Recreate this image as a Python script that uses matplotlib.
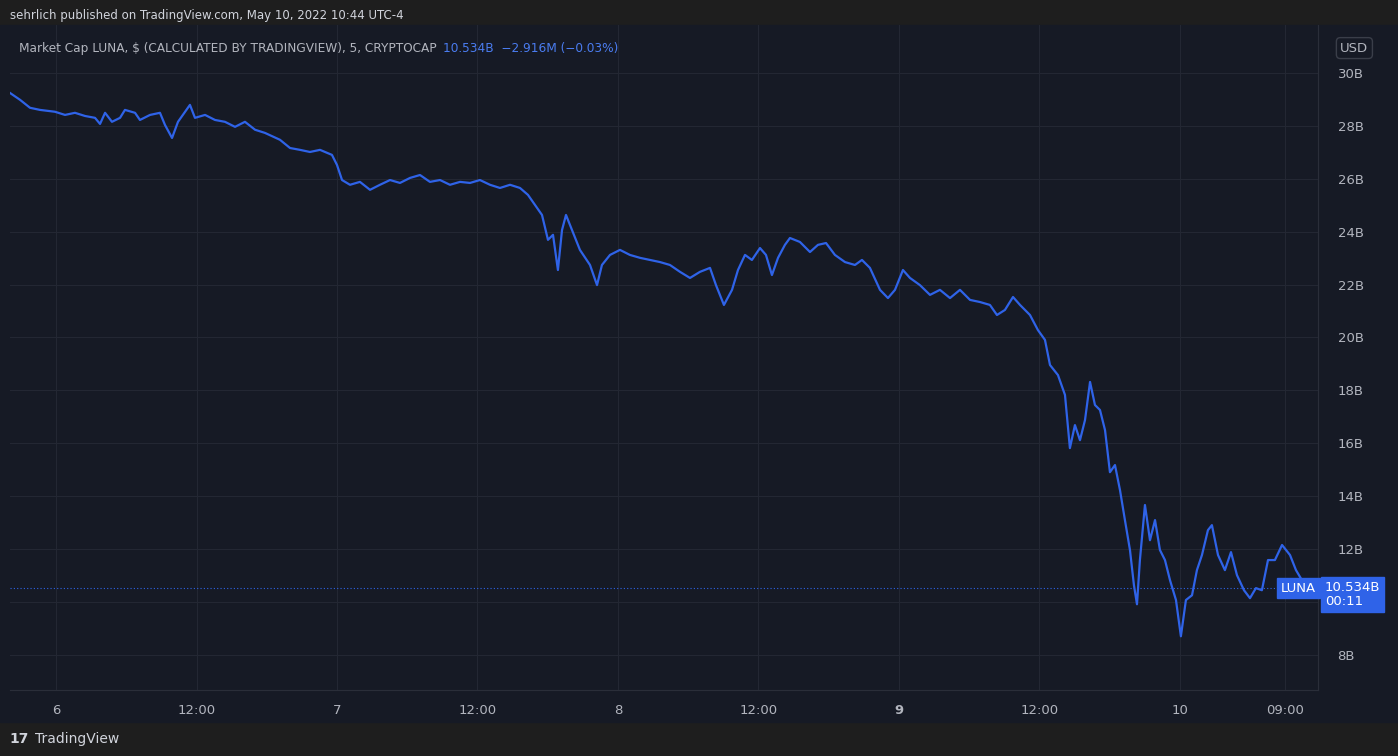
import matplotlib
matplotlib.use("Agg")
import matplotlib.pyplot as plt
from matplotlib.patches import Rectangle

# hours since May 6 00:00
hours = [-3.93,-3.07,-2.22,-1.37,-0.09,0.77,1.62,2.48,3.33,3.76,4.19,4.78,5.47,5.89,6.75,7.17,8.03,8.88,9.31,9.91,
 10.42,11.02,11.44,11.87,12.73,13.58,14.43,15.29,16.14,17.00,17.85,19.13,19.99,20.84,21.69,22.55,23.57,24.00,24.43,25.11,
 25.96,26.82,27.67,28.53,29.38,30.24,31.09,31.94,32.80,33.65,34.51,35.36,36.21,37.07,37.92,38.78,39.63,40.31,40.91,41.51,
 42.02,42.45,42.87,43.22,43.56,44.07,44.75,45.61,46.21,46.63,47.32,48.17,49.02,49.88,50.73,51.59,52.44,53.30,54.15,55.00,
 55.86,56.37,57.05,57.74,58.25,58.85,59.44,60.13,60.64,61.15,61.67,62.26,62.69,63.54,64.40,65.08,65.77,66.53,67.39,68.24,
 68.84,69.52,70.38,71.06,71.66,72.34,72.94,73.79,74.65,75.50,76.36,77.21,78.07,78.92,79.77,80.37,81.05,81.74,82.34,83.19,
 83.87,84.47,84.90,85.58,86.18,86.60,87.03,87.46,87.89,88.32,88.74,89.17,89.60,90.02,90.45,90.88,91.30,91.73,92.07,92.33,
 92.58,93.01,93.44,93.87,94.29,94.72,95.15,95.66,96.08,96.51,97.03,97.45,97.88,98.39,98.73,99.25,99.84,100.36,100.87,101.47,
 101.98,102.49,103.00,103.52,104.11,104.72,105.40,105.91,106.42]
# market cap, billions USD
cap = [29.24,28.98,28.68,28.60,28.53,28.41,28.49,28.37,28.30,28.07,28.49,28.15,28.30,28.60,28.49,28.22,28.41,28.49,28.03,27.54,
 28.15,28.53,28.79,28.30,28.41,28.22,28.15,27.96,28.15,27.85,27.73,27.47,27.16,27.09,27.01,27.09,26.90,26.52,25.95,25.77,
 25.88,25.58,25.77,25.95,25.84,26.03,26.14,25.88,25.95,25.77,25.88,25.84,25.95,25.77,25.65,25.77,25.65,25.39,25.01,24.63,
 23.69,23.88,22.55,24.06,24.63,24.06,23.31,22.74,21.98,22.74,23.12,23.31,23.12,23.01,22.93,22.85,22.74,22.48,22.25,22.48,
 22.63,21.98,21.23,21.80,22.55,23.12,22.93,23.38,23.12,22.36,23.01,23.50,23.76,23.61,23.23,23.50,23.57,23.12,22.85,22.74,
 22.93,22.63,21.80,21.49,21.80,22.55,22.25,21.98,21.61,21.80,21.49,21.80,21.42,21.34,21.23,20.85,21.04,21.53,21.23,20.85,
 20.28,19.91,18.96,18.58,17.83,15.82,16.69,16.12,16.88,18.32,17.45,17.26,16.50,14.91,15.18,14.23,13.10,11.97,10.64,9.92,
 11.59,13.67,12.34,13.10,11.97,11.59,10.83,10.08,8.71,10.08,10.26,11.21,11.78,12.72,12.91,11.78,11.21,11.89,11.02,10.45,
 10.15,10.53,10.45,11.59,11.59,12.16,11.78,11.21,10.83]
last_value = 10.534
xtick_pos = [0, 12, 24, 36, 48, 60, 72, 84, 96, 105]
xtick_lab = ["6", "12:00", "7", "12:00", "8", "12:00", "9", "12:00", "10", "09:00"]
ytick_vals = [8, 10, 12, 14, 16, 18, 20, 22, 24, 26, 28, 30]

BG = "#161a25"
GRID = "#232733"
TXT = "#b2b5be"
BLUE = "#2f63e8"

fig = plt.figure(figsize=(13.98, 7.56), dpi=100)
fig.patch.set_facecolor("#1e1e1e")
fig.add_artist(Rectangle((0, 0.0873), 1, 0.8797, transform=fig.transFigure, color=BG, zorder=0))
fig.add_artist(Rectangle((0, 0.045), 1, 0.0423, transform=fig.transFigure, color=BG, zorder=0))

ax = fig.add_axes([0.00715, 0.0873, 0.9357, 0.8797])
ax.set_facecolor(BG)
ax.plot(hours, cap, color=BLUE, lw=1.6)
ax.axhline(last_value, color=BLUE, lw=0.8, ls=(0, (1, 2)))
ax.set_xlim(-3.93, 107.8)
ax.set_ylim(6.68, 31.81)
ax.set_xticks(xtick_pos)
ax.set_xticklabels(xtick_lab)
ax.set_yticks(ytick_vals)
# the 10B label is hidden behind the last-price box in the reference
ax.set_yticklabels(["" if v == 10 else f"{v}B" for v in ytick_vals])
for lab in ax.get_xticklabels():
    if lab.get_text() == "9":
        lab.set_fontweight("bold")
ax.yaxis.tick_right()
ax.tick_params(colors=TXT, labelsize=9.5, length=0)
ax.tick_params(axis="x", pad=10)
ax.tick_params(axis="y", pad=14)
ax.grid(True, color=GRID, lw=0.8)
for s in ["top", "left"]:
    ax.spines[s].set_visible(False)
ax.spines["right"].set_color("#2a2e39")
ax.spines["bottom"].set_color("#2a2e39")

ax.text(0.007, 0.975, "Market Cap LUNA, $ (CALCULATED BY TRADINGVIEW), 5, CRYPTOCAP", transform=ax.transAxes,
        color=TXT, fontsize=8.7, va="top")
ax.text(0.331, 0.975, "10.534B  −2.916M (−0.03%)", transform=ax.transAxes, color="#4a7cf0", fontsize=8.7, va="top")
ax.text(1.017, 0.975, "USD", transform=ax.transAxes, color=TXT, fontsize=9.5, va="top",
        bbox=dict(boxstyle="round,pad=0.3", fc=BG, ec="#3a3e49"))
ax.text(0.9985, last_value, "LUNA", transform=ax.get_yaxis_transform(), color="white", fontsize=9.5, va="center", ha="right",
        bbox=dict(boxstyle="square,pad=0.3", fc=BLUE, ec=BLUE))
ax.text(1.005, last_value - 0.25, "10.534B\n00:11", transform=ax.get_yaxis_transform(), color="white", fontsize=9.5,
        va="center", ha="left", linespacing=1.1, bbox=dict(boxstyle="square,pad=0.3", fc=BLUE, ec=BLUE))

fig.text(0.007, 0.98, "sehrlich published on TradingView.com, May 10, 2022 10:44 UTC-4", color="#d1d4dc",
         fontsize=8.5, va="center")
fig.text(0.007, 0.023, "17", color="#d1d4dc", fontsize=10, va="center", fontweight="bold")
fig.text(0.025, 0.023, "TradingView", color="#d1d4dc", fontsize=10, va="center")

fig.savefig("out.png", dpi=100, facecolor=fig.get_facecolor())
